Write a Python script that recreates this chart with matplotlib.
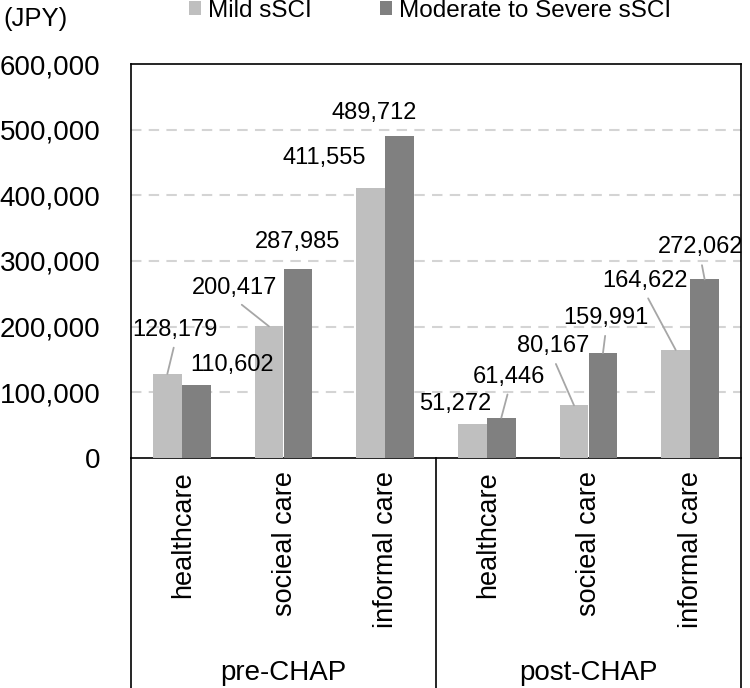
import matplotlib
matplotlib.use("Agg")
import matplotlib.pyplot as plt
from matplotlib.transforms import blended_transform_factory

plt.rcParams['font.family'] = ['Liberation Sans', 'DejaVu Sans']

categories = ["healthcare", "socieal care", "informal care",
              "healthcare", "socieal care", "informal care"]
groups = ["pre-CHAP", "post-CHAP"]
series_names = ["Mild sSCI", "Moderate to Severe sSCI"]
mild = [128179, 200417, 411555, 51272, 80167, 164622]
severe = [110602, 287985, 489712, 61446, 159991, 272062]
yticks = [0, 100000, 200000, 300000, 400000, 500000, 600000]

# label styling (offsets in pixels from bar top-centre)
mild_offsets = [(8, 44), (-34, 38), (-46, 30), (-17, 20), (-21, 59), (-31, 69)]
mild_leader = [True, True, False, False, True, True]
severe_offsets = [(36, 20), (0, 27), (-25, 23), (8, 41), (3, 35), (-4, 32)]
severe_leader = [False, False, False, True, True, True]

light = "#BFBFBF"
dark = "#808080"
leader_color = "#A6A6A6"

fig = plt.figure(figsize=(7.5, 6.88), dpi=100)
ax = fig.add_axes([131 / 750, (688 - 458) / 688, 610 / 750, 394 / 688])

x = list(range(len(categories)))
bw = 0.285
b1 = ax.bar([i - bw / 2 for i in x], mild, width=bw, color=light, zorder=3)
b2 = ax.bar([i + bw / 2 for i in x], severe, width=bw, color=dark, zorder=3)

ax.set_xlim(-0.5, len(categories) - 0.5)
ax.set_ylim(0, 600000)
ax.set_yticks(yticks)
ax.set_yticklabels([f"{v:,}" for v in yticks], fontsize=20)
ax.tick_params(axis='y', length=0, pad=22)
ax.set_xticks([])
for y in yticks[1:-1]:
    ax.axhline(y, color="#D4D4D4", lw=1.5, ls=(0, (5, 3.5)), zorder=1)
for s in ax.spines.values():
    s.set_color("#000000")
    s.set_linewidth(1.2)

def add_labels(bars, vals, offsets, leaders):
    for rect, v, off, ld in zip(bars, vals, offsets, leaders):
        xc = rect.get_x() + rect.get_width() / 2
        kw = {}
        if ld:
            kw['arrowprops'] = dict(arrowstyle='-', color=leader_color, lw=1.3,
                                    relpos=(0.5, 0), shrinkA=3, shrinkB=0)
        ax.annotate(f"{v:,}", xy=(xc, v), xytext=off, textcoords='offset pixels',
                    ha='center', va='center', fontsize=17, color='#000000',
                    zorder=5, annotation_clip=False, **kw)

add_labels(b1, mild, mild_offsets, mild_leader)
add_labels(b2, severe, severe_offsets, severe_leader)

# category labels below axis
trans = blended_transform_factory(ax.transData, ax.transAxes)
for i, c in enumerate(categories):
    ax.annotate(c, xy=(i, 0), xycoords=trans, xytext=(1, -13),
                textcoords='offset pixels', rotation=90, ha='center', va='top',
                fontsize=19.5, annotation_clip=False)
for gi, g in enumerate(groups):
    ax.annotate(g, xy=(gi * 3 + 1, 0), xycoords=trans, xytext=(0, -215),
                textcoords='offset pixels', ha='center', va='center',
                fontsize=20, annotation_clip=False)

# table lines below axis
for xa in (0, 1):
    ax.plot([xa, xa], [0, -0.62], transform=ax.transAxes, color='#000000',
            lw=1.2, clip_on=False)
ax.plot([2.5, 2.5], [0, -0.62], transform=trans, color='#000000', lw=1.2,
        clip_on=False)

fig.text(3 / 750, 1 - 19 / 688, "(JPY)", fontsize=18.5, ha='left', va='center')

fig.legend([b1, b2], series_names, loc='center',
           bbox_to_anchor=(430 / 750, 1 - 11 / 688), ncol=2, frameon=False,
           fontsize=17.5, handlelength=0.5, handleheight=0.5, handletextpad=0.25,
           columnspacing=2.84, borderpad=0, borderaxespad=0)

fig.savefig("out.png", dpi=100)
